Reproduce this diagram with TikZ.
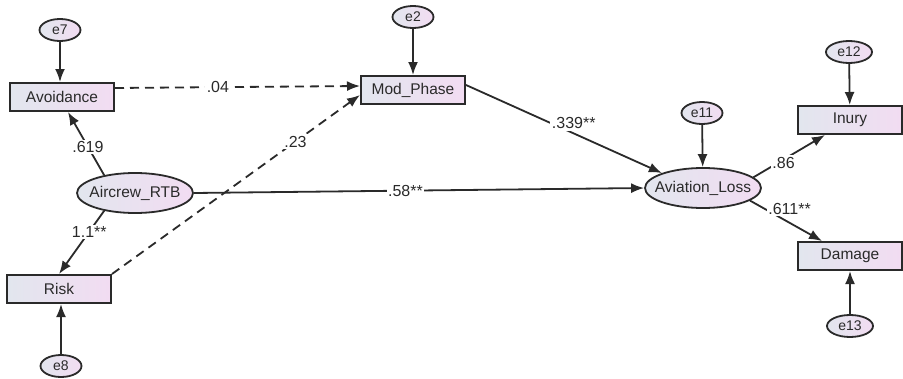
\documentclass[tikz,border=0pt]{standalone}
\usepackage{fontspec}
\setmainfont{Liberation Sans}
\usetikzlibrary{arrows.meta,shapes.geometric}
\definecolor{bl}{HTML}{E2E6EE}
\definecolor{pk}{HTML}{F2DCF2}
\definecolor{ln}{HTML}{2A2A2A}
\newcommand{\zw}[1]{\makebox[0pt]{#1}}
\begin{document}
\begin{tikzpicture}[x=1pt,y=-1pt,
 box/.style={draw=ln, line width=2pt, left color=bl, right color=pk, minimum width=104pt, minimum height=28pt, inner sep=0pt, text=ln, font=\fontsize{15.5}{17}\selectfont},
 lat/.style={draw=ln, line width=1.8pt, ellipse, left color=bl, right color=pk, minimum width=116pt, minimum height=40pt, inner sep=0pt, text=ln, font=\fontsize{15.5}{17}\selectfont},
 err/.style={draw=ln, line width=1.8pt, ellipse, left color=bl, right color=pk, minimum width=41pt, minimum height=22pt, inner sep=0pt, text=ln, font=\fontsize{14}{16}\selectfont},
 arr/.style={draw=ln, line width=1.8pt, -{Latex[length=13pt,width=10pt]}},
 dsh/.style={arr, dash pattern=on 9pt off 6pt},
 lbl/.style={fill=white, inner sep=1.5pt, text=ln, font=\fontsize{16}{18}\selectfont}
]
\useasboundingbox (0,0) rectangle (903,378);
\fill[white] (0,0) rectangle (903,378);
% nodes
\node[err] (e7) at (60,30) {\zw{e7}};
\node[box] (avo) at (62,97) {Avoidance};
\node[lat] (air) at (135,193) {\zw{Aircrew\_RTB}};
\node[box] (risk) at (59,289) {Risk};
\node[err] (e8) at (61,366) {\zw{e8}};
\node[err] (e2) at (413,17) {\zw{e2}};
\node[box] (mod) at (413,90) {Mod\_Phase};
\node[lat] (avl) at (703,188) {\zw{Aviation\_Loss}};
\node[err] (e11) at (702,113) {\zw{e11}};
\node[box] (inj) at (850,120) {Inury};
\node[err, minimum width=46pt] (e12) at (849,52) {\zw{e12}};
\node[box] (dmg) at (850,256) {Damage};
\node[err, minimum width=46pt] (e13) at (850,326) {\zw{e13}};
% error arrows
\draw[arr] (e7) -- (e7 |- avo.north);
\draw[arr] (e8) -- (e8 |- risk.south);
\draw[arr] (e2) -- (mod);
\draw[arr] (e11) -- (avl);
\draw[arr] (e12) -- (inj);
\draw[arr] (e13) -- (dmg);
% paths
\draw[dsh] ([yshift=9pt]avo.east) -- node[lbl, pos=0.42]{.04} ([yshift=4pt]mod.west);
\draw[dsh] (risk.north east) -- node[lbl, pos=0.74]{.23} ([yshift=-5pt]mod.west);
\draw[arr] (air.150) -- node[lbl, pos=0.45]{.619} ([xshift=6pt]avo.south);
\draw[arr] (air.210) -- node[lbl, pos=0.33]{1.1**} (risk.north);
\draw[arr] (air.east) -- node[lbl, pos=0.47]{.58**} (avl.west);
\draw[arr] ([yshift=5pt]mod.east) -- node[lbl, pos=0.55, yshift=10pt]{.339**} (avl.160);
\draw[arr] (avl.12) -- node[lbl, pos=0.42, yshift=-3pt]{.86} ([xshift=-25pt]inj.south);
\draw[arr] (avl.-15) -- node[lbl, pos=0.55, yshift=14pt]{.611**} ([xshift=-28pt]dmg.north);
\end{tikzpicture}
\end{document}
